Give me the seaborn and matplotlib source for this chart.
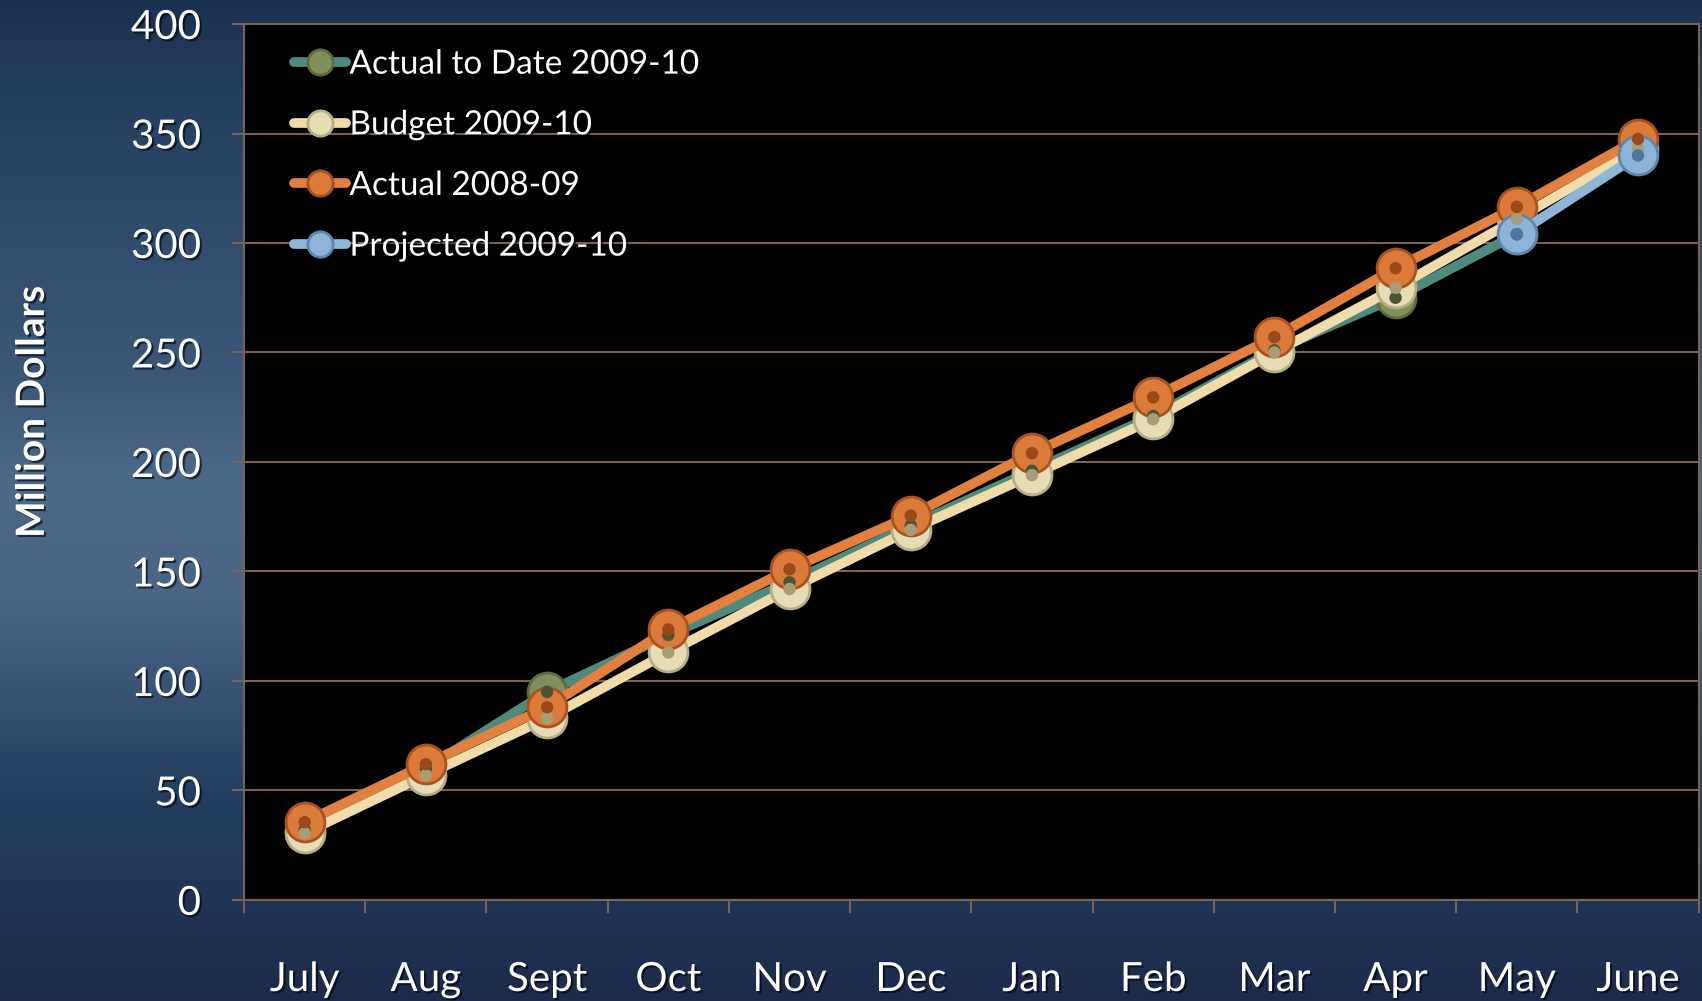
import numpy as np
import pandas as pd
import matplotlib
matplotlib.use("Agg")
import matplotlib.pyplot as plt
import matplotlib.colors as mcolors
import matplotlib.patheffects as pe
import seaborn as sns

# -------- data --------
months = ["July", "Aug", "Sept", "Oct", "Nov", "Dec",
          "Jan", "Feb", "Mar", "Apr", "May", "June"]
actual_to_date = [32, 60, 95, 121, 145, 171, 196, 221, 251, 275, 304, np.nan]
budget = [30.5, 57, 83, 113, 142, 169, 194, 219.5, 250, 279.5, 311, 343]
actual_prev = [35.5, 62, 88, 123.5, 151, 175.5, 204, 229.5, 257, 288.5, 316.5, 347.5]
projected = [np.nan] * 10 + [304, 340]
yticks = [0, 50, 100, 150, 200, 250, 300, 350, 400]

series = [
    # label, values, line color, marker face, marker edge, hole color
    ("Actual to Date 2009-10", actual_to_date, "#4e8a7e", "#7f8f5e", "#5d6b40", "#4a5535"),
    ("Budget 2009-10", budget, "#efdcaa", "#e6ddb6", "#b8ae86", "#a89d74"),
    ("Actual 2008-09", actual_prev, "#e2803f", "#dc7a3a", "#a8531f", "#9a4a1a"),
    ("Projected 2009-10", projected, "#8fb5d9", "#8db4d8", "#5f87ad", "#4f779d"),
]

# -------- styling --------
sns.set_theme(style="dark")
plt.rcParams["font.family"] = ["Lato", "DejaVu Sans"]
GRID = "#7a6258"
shadow = [pe.SimplePatchShadow(offset=(1.5, -1.5), shadow_rgbFace="black", alpha=0.6),
          pe.Normal()]

fig = plt.figure(figsize=(17.02, 10.01), dpi=100)

# background gradient
bg = fig.add_axes([0, 0, 1, 1], zorder=-5)
cmap = mcolors.LinearSegmentedColormap.from_list(
    "bgblue", [(0.0, "#1d2b4a"), (0.2, "#233d60"), (0.4, "#4a6584"),
               (0.52, "#4d6988"), (0.62, "#3c5777"), (0.85, "#2a4465"),
               (1.0, "#1b3150")])
grad = np.linspace(1, 0, 256).reshape(-1, 1)
bg.imshow(grad, aspect="auto", cmap=cmap, extent=[0, 1, 0, 1])
bg.set_axis_off()

ax = fig.add_axes([0.1434, 0.101, 0.8546, 0.875])
ax.set_facecolor("black")

x = np.arange(len(months))
for label, vals, lc, mfc, mec, hole in series:
    df = pd.DataFrame({"x": x, "y": vals}).dropna()
    sns.lineplot(data=df, x="x", y="y", ax=ax, color=lc, linewidth=7,
                 marker="o", markersize=28, markerfacecolor=mfc,
                 markeredgecolor=mec, markeredgewidth=2, label=label,
                 solid_capstyle="round")
    sns.scatterplot(data=df, x="x", y="y", ax=ax, color=hole, s=80,
                    edgecolor="none", legend=False, zorder=3)

ax.set_xlim(-0.5, len(months) - 0.5)
ax.set_ylim(0, 400)
ax.set_yticks(yticks)
ax.set_yticklabels([str(v) for v in yticks])
ax.set_xticks(x)
ax.set_xticklabels(months)
ax.set_xticks(np.arange(-0.5, len(months)), minor=True)

ax.tick_params(axis="x", which="major", length=0, pad=44, labelsize=29,
               labelcolor="white")
ax.tick_params(axis="x", which="minor", length=9, width=1.5, color=GRID,
               direction="out", bottom=True)
ax.tick_params(axis="y", which="major", length=9, width=1.5, color=GRID,
               direction="out", left=True, pad=22, labelsize=29,
               labelcolor="white")
for t in ax.get_xticklabels() + ax.get_yticklabels():
    t.set_path_effects(shadow)

ax.grid(False)
ax.yaxis.grid(True, color=GRID, linewidth=1.5)
ax.set_axisbelow(True)
for side in ["left", "bottom", "right", "top"]:
    ax.spines[side].set_visible(True)
    ax.spines[side].set_color(GRID)
    ax.spines[side].set_linewidth(1.5)

ax.set_xlabel("")
ax.set_ylabel("")
fig.text(0.019, 0.588, "Million Dollars", rotation=90, ha="center",
         va="center", color="white", fontsize=28, fontweight="bold",
         family=["Liberation Sans Narrow", "Lato", "DejaVu Sans"],
         path_effects=shadow)

leg = ax.legend(loc="upper left", bbox_to_anchor=(0.014, 1.005), frameon=False,
                fontsize=24, handlelength=1.55, handletextpad=0.1,
                labelspacing=0.92, markerscale=0.65)
for t in leg.get_texts():
    t.set_color("white")
    t.set_path_effects(shadow)

fig.savefig("out.png", dpi=100)
